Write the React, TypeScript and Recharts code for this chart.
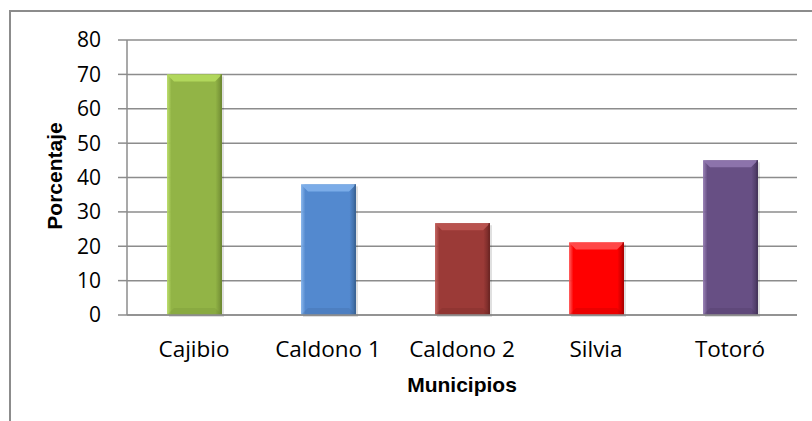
import React from 'react';
import { BarChart, Bar, XAxis, YAxis, CartesianGrid, Cell, Label } from 'recharts';

const municipios = ['Cajibio', 'Caldono 1', 'Caldono 2', 'Silvia', 'Totoró'];
const porcentajes = [70, 38, 26.7, 21.1, 45];
const yTicks = [0, 10, 20, 30, 40, 50, 60, 70, 80];

// base, light (top bevel), dark (edges)
const palette = [
  { base: '#92b446', light: '#b5da5e', dark: '#6f8a33' },
  { base: '#5389cf', light: '#7fb0ea', dark: '#3b6496' },
  { base: '#9b3a37', light: '#bd5652', dark: '#6e2624' },
  { base: '#ff0000', light: '#ff5050', dark: '#b00000' },
  { base: '#674f84', light: '#9077af', dark: '#46355c' },
];

const data = municipios.map((name, i) => ({ name, value: porcentajes[i], idx: i }));

const FONT = "'Open Sans', sans-serif";
const BOLD = "'Liberation Sans', Arial, sans-serif";

const BevelBar: React.FC<any> = (props) => {
  const { x, y, width, height, payload } = props;
  if (!height || height <= 0) return null;
  const c = palette[payload.idx];
  const b = 7;
  const id = `g${payload.idx}`;
  return (
    <g>
      <defs>
        <linearGradient id={id} x1="0" y1="0" x2="1" y2="0">
          <stop offset="0%" stopColor={c.light} stopOpacity={0.9} />
          <stop offset="8%" stopColor={c.base} />
          <stop offset="88%" stopColor={c.base} />
          <stop offset="100%" stopColor={c.dark} />
        </linearGradient>
      </defs>
      <rect x={x + 2} y={y + 2} width={width} height={height} fill="#000" opacity={0.12} />
      <rect x={x} y={y} width={width} height={height} fill={`url(#${id})`} />
      <polygon
        points={`${x},${y} ${x + width},${y} ${x + width - b},${y + b} ${x + b},${y + b}`}
        fill={c.light}
        opacity={0.9}
      />
      <polygon
        points={`${x},${y + height} ${x + width},${y + height} ${x + width - b},${y + height - b} ${x + b},${y + height - b}`}
        fill={c.dark}
        opacity={0.25}
      />
      <rect x={x + width - 1.5} y={y} width={1.5} height={height} fill={c.dark} />
    </g>
  );
};

export default function App() {
  return (
    <div style={{ position: 'absolute', left: 0, top: 0, width: 812, height: 421, background: '#fff' }}>
      <div
        style={{
          position: 'absolute',
          left: 9,
          top: 10,
          width: 820,
          height: 420,
          borderTop: '2px solid #8c8c8c',
          borderLeft: '2px solid #8c8c8c',
        }}
      />
      <div style={{ position: 'absolute', left: 0, top: 0 }}>
        <BarChart width={812} height={421} data={data} margin={{ top: 40, right: 15, left: 0, bottom: 0 }} barSize={55}>
          <CartesianGrid vertical={false} stroke="#8c8c8c" strokeWidth={1.5} />
          <XAxis
            dataKey="name"
            height={106}
            axisLine={{ stroke: '#8c8c8c', strokeWidth: 1.5 }}
            tickLine={false}
            tickSize={0}
            tickMargin={26}
            interval={0}
            tick={{ fill: '#000', fontSize: 22.5, fontFamily: FONT }}
          >
            <Label
              content={() => (
                <text x={462} y={392} textAnchor="middle" fontFamily={BOLD} fontWeight="bold" fontSize={21} fill="#000">
                  Municipios
                </text>
              )}
            />
          </XAxis>
          <YAxis
            width={127}
            domain={[0, 80]}
            ticks={yTicks}
            interval={0}
            axisLine={{ stroke: '#8c8c8c', strokeWidth: 1.5 }}
            tickLine={{ stroke: '#8c8c8c', strokeWidth: 1.5 }}
            tickSize={9}
            tickMargin={17}
            tick={{ fill: '#000', fontSize: 21, fontFamily: FONT }}
          >
            <Label
              content={() => (
                <text
                  x={62}
                  y={176}
                  transform="rotate(-90 62 176)"
                  textAnchor="middle"
                  fontFamily={BOLD}
                  fontWeight="bold"
                  fontSize={21}
                  fill="#000"
                >
                  Porcentaje
                </text>
              )}
            />
          </YAxis>
          <Bar dataKey="value" isAnimationActive={false} shape={<BevelBar />}>
            {data.map((d) => (
              <Cell key={d.name} fill={palette[d.idx].base} />
            ))}
          </Bar>
        </BarChart>
      </div>
    </div>
  );
}
